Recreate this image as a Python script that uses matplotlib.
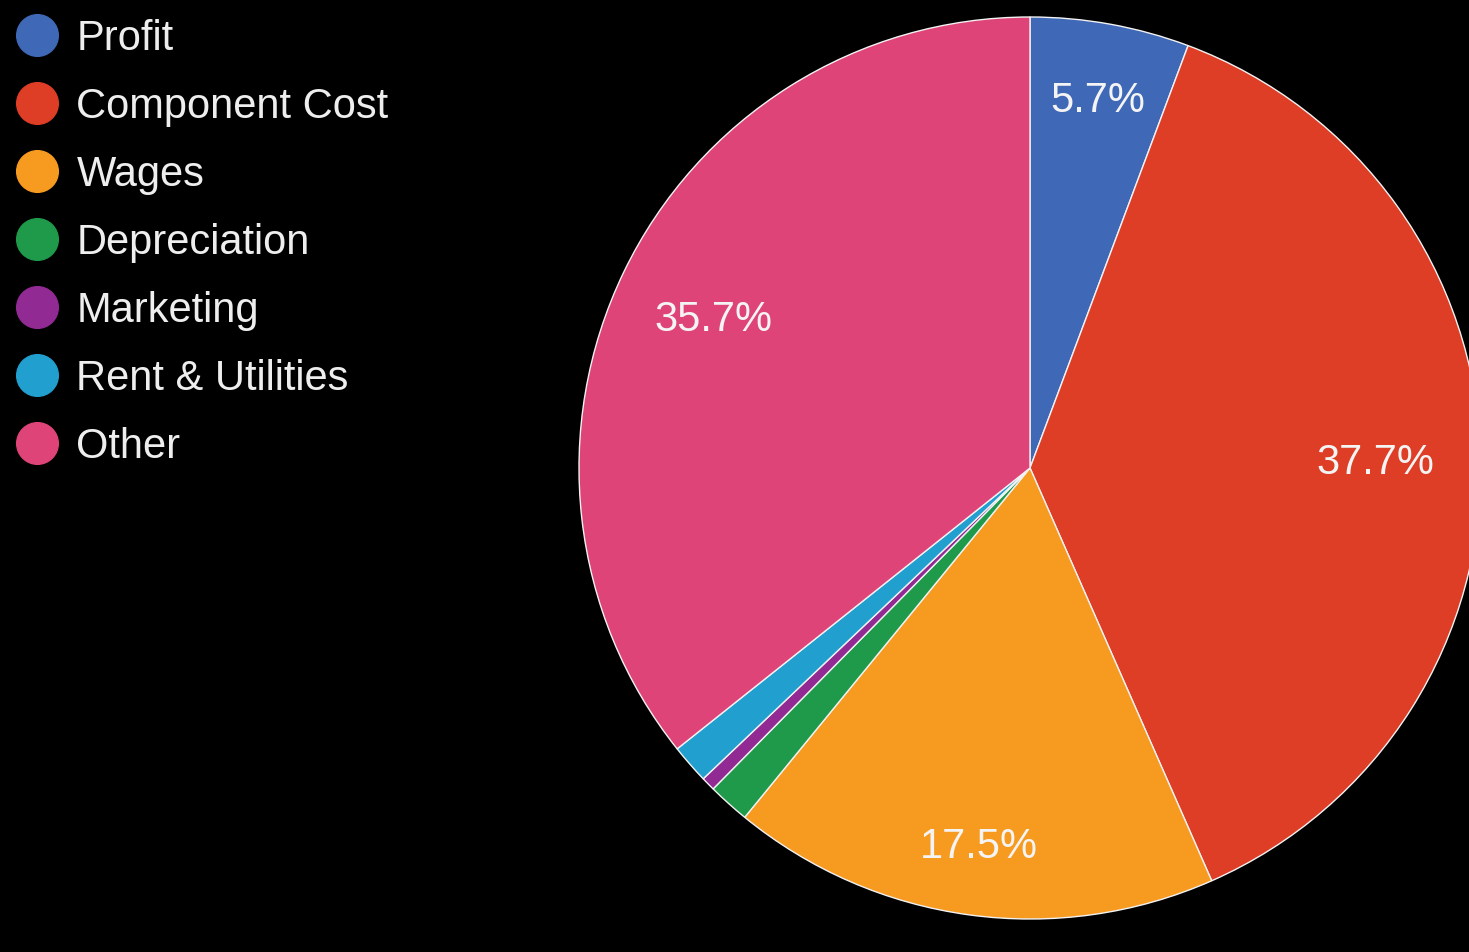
import numpy as np
import matplotlib
matplotlib.use("Agg")
import matplotlib.pyplot as plt
from matplotlib.lines import Line2D

categories = ["Profit", "Component Cost", "Wages", "Depreciation",
              "Marketing", "Rent & Utilities", "Other"]
shares = [5.7, 37.7, 17.5, 1.5, 0.5, 1.4, 35.7]
colors = ["#3f68b6", "#de3d26", "#f79a20", "#1e9a4a",
          "#922a94", "#21a0cf", "#df4479"]

plt.rcParams["font.family"] = ["Liberation Sans", "DejaVu Sans"]

W, H = 1469, 952
fig = plt.figure(figsize=(W / 100, H / 100), dpi=100, facecolor="black")

# pie: centre (1030, 468) px, radius ~451 px; right side runs off the canvas
cx, cy, r = 1030, 468, 451
ax = fig.add_axes([(cx - r) / W, (H - cy - r) / H, 2 * r / W, 2 * r / H])
ax.set_facecolor("black")


def _pct(p):
    return f"{p:.1f}%" if p >= 5 else ""


wedges, texts, autotexts = ax.pie(
    shares,
    colors=colors,
    startangle=90,
    counterclock=False,
    autopct=_pct,
    pctdistance=0.8,
    wedgeprops=dict(edgecolor="#f2f2f2", linewidth=1.0),
    textprops=dict(color="#f4f4f4", fontsize=30),
)
ax.set_aspect("auto")
ax.set_xlim(-1.0, 1.0)
ax.set_ylim(-1.0, 1.0)
ax.axis("off")
for w in wedges:
    w.set_clip_on(False)

# Google-style labels sit a little further out near the top/bottom
for w, t in zip(wedges, autotexts):
    mid = np.radians((w.theta1 + w.theta2) / 2)
    d = 0.765 + 0.075 * np.sin(mid) ** 2
    t.set_position((d * np.cos(mid), d * np.sin(mid) - 0.01))

# legend: round markers at left
handles = [
    Line2D([], [], marker="o", linestyle="none", markersize=30,
           markerfacecolor=c, markeredgecolor=c)
    for c in colors
]
fig.legend(
    handles, categories,
    loc="upper left",
    bbox_to_anchor=(16 / W, 1 - 19 / H),
    frameon=False,
    fontsize=30,
    labelcolor="#eeeeee",
    handlelength=1.0,
    handletextpad=0.45,
    labelspacing=0.67,
    borderaxespad=0.0,
    borderpad=0.0,
)

fig.savefig("out.png", dpi=100, facecolor="black")
